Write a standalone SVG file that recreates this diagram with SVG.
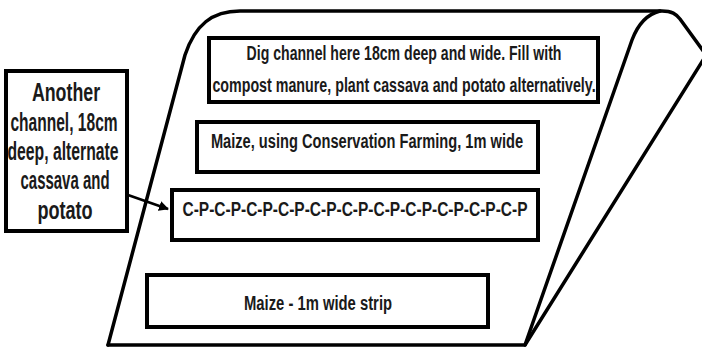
<svg xmlns="http://www.w3.org/2000/svg" width="702" height="347" viewBox="0 0 702 347">
<defs>
<style>
.shape{fill:none;stroke:#000;stroke-width:3.5;stroke-linejoin:round;stroke-linecap:round}
.box{fill:#fff;stroke:#000;stroke-width:4}
.t{font-family:"Liberation Sans",Arial,sans-serif;font-weight:bold;font-size:21px;fill:#1a1a1a;text-anchor:middle}
.tl{font-size:25px}
.conn{stroke:#000;stroke-width:2.5;fill:none}
</style>
<marker id="ah" viewBox="0 0 10 10" refX="9" refY="5" markerWidth="4" markerHeight="4" orient="auto" markerUnits="strokeWidth">
<path d="M0,0 L10,5 L0,10 z" fill="#000"/>
</marker>
</defs>
<rect width="702" height="347" fill="#fff"/>
<g id="field">
<path class="shape" d="M108,345 L185,55 C195,25 212,11 240,11 L662,11 C672,11 676,14 680,19 L704,52"/>
<path class="shape" d="M660,11 C648,14 638,24 632,40 L525,345"/>
<path class="shape" d="M705,57 L525,345 L108,345"/>
</g>
<g id="node-dig">
<rect class="box" x="209" y="38" width="389" height="64"/>
<text class="t" transform="translate(404,60) scale(0.67,1)" textLength="470" lengthAdjust="spacingAndGlyphs">Dig channel here 18cm deep and wide. Fill with</text>
<text class="t" transform="translate(404,92) scale(0.67,1)" textLength="572" lengthAdjust="spacingAndGlyphs">compost manure, plant cassava and potato alternatively.</text>
</g>
<g id="node-maize-cf">
<rect class="box" x="197" y="122" width="341" height="50"/>
<text class="t" transform="translate(367,148) scale(0.67,1)" textLength="466" lengthAdjust="spacingAndGlyphs">Maize, using Conservation Farming, 1m wide</text>
</g>
<g id="node-cp">
<rect class="box" x="172" y="190" width="366" height="50"/>
<text class="t" transform="translate(355,216) scale(0.67,1)" textLength="515" lengthAdjust="spacingAndGlyphs">C-P-C-P-C-P-C-P-C-P-C-P-C-P-C-P-C-P-C-P-C-P</text>
</g>
<g id="node-maize-strip">
<rect class="box" x="147" y="275" width="341" height="52"/>
<text class="t" transform="translate(318,310) scale(0.67,1)" textLength="221" lengthAdjust="spacingAndGlyphs">Maize - 1m wide strip</text>
</g>
<g id="node-another">
<rect class="box" x="6" y="71" width="121" height="160"/>
<text class="t tl" transform="translate(66,101) scale(0.65,1)" textLength="105" lengthAdjust="spacingAndGlyphs">Another</text>
<text class="t tl" transform="translate(64,131) scale(0.65,1)" textLength="165" lengthAdjust="spacingAndGlyphs">channel, 18cm</text>
<text class="t tl" transform="translate(63,160) scale(0.65,1)" textLength="171" lengthAdjust="spacingAndGlyphs">deep, alternate</text>
<text class="t tl" transform="translate(65,189) scale(0.65,1)" textLength="137" lengthAdjust="spacingAndGlyphs">cassava and</text>
<text class="t tl" transform="translate(65,219) scale(0.65,1)" textLength="85" lengthAdjust="spacingAndGlyphs">potato</text>
</g>
<g id="connectors">
<line class="conn" x1="128" y1="195" x2="168" y2="209" marker-end="url(#ah)"/>
</g>
</svg>
